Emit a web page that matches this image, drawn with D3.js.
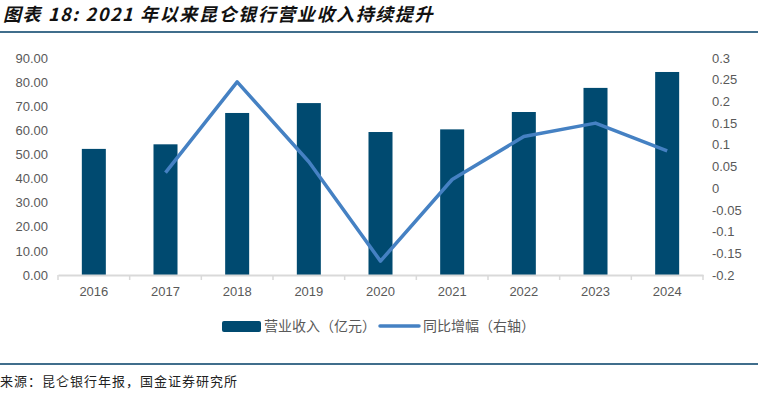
<!DOCTYPE html>
<html>
<head>
<meta charset="utf-8">
<script src="https://cdn.jsdelivr.net/npm/d3@7"></script>
<style>
  html, body { margin: 0; padding: 0; background: #fff; }
  svg { display: block; }
</style>
</head>
<body>
<div id="chart"></div>
<script>
// Data
const years = ['2016', '2017', '2018', '2019', '2020', '2021', '2022', '2023', '2024'];
const revenue = [52.3, 54.2, 67.2, 71.3, 59.3, 60.4, 67.6, 77.6, 84.2];
const growth = [null, 0.036, 0.245, 0.061, -0.168, 0.020, 0.119, 0.150, 0.086];
const leftTicks = [0, 10, 20, 30, 40, 50, 60, 70, 80, 90];
const rightTicks = [-0.2, -0.15, -0.1, -0.05, 0, 0.05, 0.1, 0.15, 0.2, 0.25, 0.3];

const width = 758, height = 396;
const plot = { left: 58, right: 703, top: 58, bottom: 275 };
const barColor = '#004a70';
const lineColor = '#4581c3';
const labelColor = '#595959';
const font = '"Liberation Sans", Arial, sans-serif';
const cjk = '"Noto Sans CJK SC", sans-serif';

const svg = d3.select('#chart')
  .append('svg')
  .attr('width', width)
  .attr('height', height);

// Title and rule
svg.append('text')
  .attr('x', 3)
  .attr('y', 21)
  .attr('font-family', cjk)
  .attr('font-size', 18)
  .attr('letter-spacing', 1.6)
  .attr('font-weight', 'bold')
  .attr('font-style', 'italic')
  .attr('fill', '#111')
  .text('图表 18: 2021 年以来昆仑银行营业收入持续提升');

svg.append('line')
  .attr('x1', 0).attr('x2', width)
  .attr('y1', 32).attr('y2', 32)
  .attr('stroke', '#003e66')
  .attr('stroke-width', 1.5);

// Scales
const x = d3.scaleBand()
  .domain(years)
  .range([plot.left, plot.right])
  .paddingInner(0.665)
  .paddingOuter(0.3325);

const step = x.step();

const yLeft = d3.scaleLinear()
  .domain([0, 90])
  .range([plot.bottom, plot.top]);

const yRight = d3.scaleLinear()
  .domain([-0.2, 0.3])
  .range([plot.bottom, plot.top]);

// Bars
svg.append('g')
  .selectAll('rect')
  .data(years.map((y, i) => ({ year: y, value: revenue[i] })))
  .join('rect')
  .attr('x', d => x(d.year))
  .attr('y', d => yLeft(d.value))
  .attr('width', x.bandwidth())
  .attr('height', d => yLeft(0) - yLeft(d.value))
  .attr('fill', barColor);

// Bottom axis
const xAxis = svg.append('g')
  .attr('transform', `translate(0, ${plot.bottom})`)
  .call(d3.axisBottom(x).tickSize(0).tickPadding(12));
xAxis.select('.domain').attr('stroke', '#d9d9d9').attr('stroke-width', 2);
xAxis.selectAll('text')
  .attr('font-family', font)
  .attr('font-size', 13)
  .attr('fill', labelColor);

// Category boundary ticks
xAxis.append('g')
  .selectAll('line')
  .data(d3.range(years.length + 1))
  .join('line')
  .attr('x1', i => plot.left + i * step)
  .attr('x2', i => plot.left + i * step)
  .attr('y1', 0)
  .attr('y2', 5)
  .attr('stroke', '#d9d9d9')
  .attr('stroke-width', 1.5);

// Left axis
const leftAxis = svg.append('g')
  .attr('transform', `translate(${plot.left - 4}, 0)`)
  .call(d3.axisLeft(yLeft).tickValues(leftTicks).tickFormat(d3.format('.2f')).tickSize(0).tickPadding(6));
leftAxis.select('.domain').remove();
leftAxis.selectAll('text')
  .attr('font-family', font)
  .attr('font-size', 13)
  .attr('fill', labelColor);

// Right axis
const rightAxis = svg.append('g')
  .attr('transform', `translate(${plot.right + 3}, 0)`)
  .call(d3.axisRight(yRight).tickValues(rightTicks).tickFormat(d => String(+d.toFixed(2))).tickSize(0).tickPadding(6));
rightAxis.select('.domain').remove();
rightAxis.selectAll('text')
  .attr('font-family', font)
  .attr('font-size', 13)
  .attr('fill', labelColor);

// Growth line
const line = d3.line()
  .defined(d => d.value !== null)
  .x(d => x(d.year) + x.bandwidth() / 2)
  .y(d => yRight(d.value));

svg.append('path')
  .datum(years.map((y, i) => ({ year: y, value: growth[i] })))
  .attr('d', line)
  .attr('fill', 'none')
  .attr('stroke', lineColor)
  .attr('stroke-width', 3.5)
  .attr('stroke-linejoin', 'round');

// Legend
const legend = svg.append('g').attr('font-family', cjk).attr('font-size', 14).attr('fill', labelColor);
legend.append('rect')
  .attr('x', 222).attr('y', 321)
  .attr('width', 39).attr('height', 11)
  .attr('rx', 2)
  .attr('fill', barColor);
legend.append('text')
  .attr('x', 264).attr('y', 331)
  .text('营业收入（亿元）');
legend.append('line')
  .attr('x1', 380).attr('x2', 419)
  .attr('y1', 326).attr('y2', 326)
  .attr('stroke', lineColor)
  .attr('stroke-width', 3.5)
  .attr('stroke-linecap', 'round');
legend.append('text')
  .attr('x', 423).attr('y', 331)
  .text('同比增幅（右轴）');

// Source rule and note
svg.append('line')
  .attr('x1', 0).attr('x2', width)
  .attr('y1', 364).attr('y2', 364)
  .attr('stroke', '#003e66')
  .attr('stroke-width', 1.5);

svg.append('text')
  .attr('x', 0)
  .attr('y', 386)
  .attr('font-family', cjk)
  .attr('font-size', 13)
  .attr('letter-spacing', 1)
  .attr('fill', '#222')
  .text('来源：昆仑银行年报，国金证券研究所');
</script>
</body>
</html>
